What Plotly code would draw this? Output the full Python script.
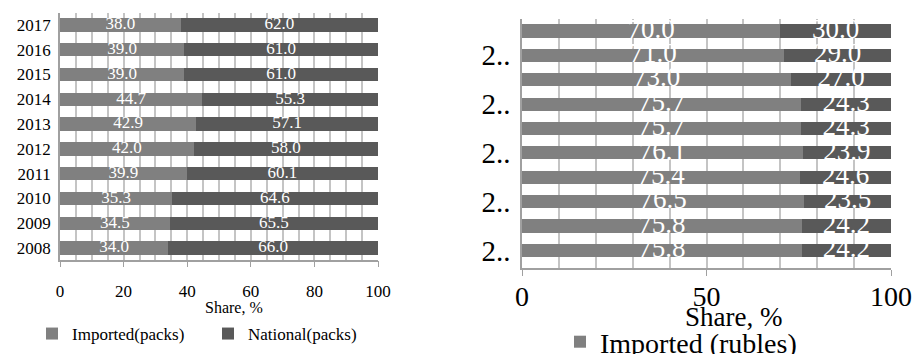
import plotly.graph_objects as go

years = ["2008", "2009", "2010", "2011", "2012", "2013", "2014", "2015", "2016", "2017"]
imported_packs = [34.0, 34.5, 35.3, 39.9, 42.0, 42.9, 44.7, 39.0, 39.0, 38.0]
national_packs = [66.0, 65.5, 64.6, 60.1, 58.0, 57.1, 55.3, 61.0, 61.0, 62.0]
imported_rubles = [75.8, 75.8, 76.5, 75.4, 76.1, 75.7, 75.7, 73.0, 71.0, 70.0]
national_rubles = [24.2, 24.2, 23.5, 24.6, 23.9, 24.3, 24.3, 27.0, 29.0, 30.0]

C_IMP = "#808080"
C_NAT = "#595959"
GRID = "#c4c4c4"
AXC = "#a0a0a0"
FONT = "Liberation Serif"


def f(size, color="black"):
    return dict(family=FONT, size=size, color=color)


fig = go.Figure()

# Left chart: packs
fig.add_trace(go.Bar(y=years, x=imported_packs, orientation="h", name="Imported(packs)",
                     marker=dict(color=C_IMP, line=dict(width=0)), xaxis="x", yaxis="y",
                     legend="legend"))
fig.add_trace(go.Bar(y=years, x=national_packs, orientation="h", name="National(packs)",
                     marker=dict(color=C_NAT, line=dict(width=0)), xaxis="x", yaxis="y",
                     legend="legend"))
fig.add_trace(go.Scatter(y=years, x=[v / 2 for v in imported_packs], mode="text",
                         text=[f"{v:.1f}" for v in imported_packs], showlegend=False,
                         textfont=f(17, "white"),
                         xaxis="x", yaxis="y", cliponaxis=False, hoverinfo="skip"))
fig.add_trace(go.Scatter(y=years, x=[a + b / 2 for a, b in zip(imported_packs, national_packs)],
                         mode="text", text=[f"{v:.1f}" for v in national_packs], showlegend=False,
                         textfont=f(17, "white"),
                         xaxis="x", yaxis="y", cliponaxis=False, hoverinfo="skip"))

# Right chart: rubles
fig.add_trace(go.Bar(y=years, x=imported_rubles, orientation="h", name="Imported (rubles)",
                     marker=dict(color=C_IMP, line=dict(width=0)), xaxis="x2", yaxis="y2",
                     legend="legend2"))
fig.add_trace(go.Bar(y=years, x=national_rubles, orientation="h", name="National (rubles)",
                     marker=dict(color=C_NAT, line=dict(width=0)), xaxis="x2", yaxis="y2",
                     showlegend=False))
fig.add_trace(go.Scatter(y=years, x=[v / 2 for v in imported_rubles], mode="text",
                         text=[f"{v:.1f}" for v in imported_rubles], showlegend=False,
                         textfont=f(27, "white"),
                         xaxis="x2", yaxis="y2", cliponaxis=False, hoverinfo="skip"))
fig.add_trace(go.Scatter(y=years, x=[a + b / 2 for a, b in zip(imported_rubles, national_rubles)],
                         mode="text", text=[f"{v:.1f}" for v in national_rubles], showlegend=False,
                         textfont=f(27, "white"),
                         xaxis="x2", yaxis="y2", cliponaxis=False, hoverinfo="skip"))

W, H = 915, 354

fig.update_layout(
    width=W, height=H,
    margin=dict(l=0, r=0, t=0, b=0, autoexpand=False),
    paper_bgcolor="white", plot_bgcolor="white",
    barmode="stack", bargap=0.46,
    font=f(16),
    xaxis=dict(domain=[60 / W, 378 / W], range=[0, 100], anchor="y", automargin=False,
               tickvals=[0, 20, 40, 60, 80, 100], ticks="outside", ticklen=6, tickcolor=AXC,
               tickfont=f(17), ticklabelstandoff=9,
               showgrid=True, gridcolor=GRID, gridwidth=1.5,
               minor=dict(dtick=5, showgrid=True, gridcolor=GRID, gridwidth=1.5),
               showline=True, linecolor=AXC, linewidth=1.5, zeroline=False),
    yaxis=dict(domain=[1 - 259.5 / H, 1 - 13 / H], range=[-0.46, 9.48], anchor="x", automargin=False,
               type="category", categoryorder="array", categoryarray=years,
               tickfont=f(17), ticks="", showgrid=False, ticklabelstandoff=4,
               showline=True, linecolor=AXC, linewidth=1.5, zeroline=False),
    xaxis2=dict(domain=[522 / W, 891 / W], range=[0, 100], anchor="y2", automargin=False,
                tickvals=[0, 50, 100], ticks="outside", ticklen=6, tickcolor=AXC,
                tickfont=f(28), ticklabelstandoff=-3,
                showgrid=True, gridcolor=GRID, gridwidth=1.5,
                minor=dict(dtick=10, showgrid=True, gridcolor=GRID, gridwidth=1.5),
                showline=True, linecolor=AXC, linewidth=1.5, zeroline=False),
    yaxis2=dict(domain=[1 - 268 / H, 1 - 19 / H], range=[-0.72, 9.49], anchor="x2", automargin=False,
                type="category", categoryorder="array", categoryarray=years,
                tickvals=["2008", "2010", "2012", "2014", "2016"], ticktext=["2.."] * 5,
                tickfont=f(29), ticks="", showgrid=False, ticklabelstandoff=4,
                showline=True, linecolor=AXC, linewidth=1.5, zeroline=False),
    legend=dict(orientation="h", x=32 / W, y=1 - 334 / H, xanchor="left", yanchor="middle",
                font=f(17), entrywidth=131, entrywidthmode="pixels",
                bgcolor="rgba(0,0,0,0)", traceorder="normal"),
    legend2=dict(orientation="h", x=560 / W, y=1 - 342 / H, xanchor="left", yanchor="middle",
                 font=f(28), bgcolor="rgba(0,0,0,0)"),
    annotations=[
        dict(text="Share, %", x=234 / W, y=1 - 307 / H, xref="paper", yref="paper",
             showarrow=False, font=f(16), xanchor="center", yanchor="middle"),
        dict(text="Share, %", x=733 / W, y=1 - 317 / H, xref="paper", yref="paper",
             showarrow=False, font=f(27), xanchor="center", yanchor="middle"),
    ],
)

fig.write_html("out.html", config={"displayModeBar": False},
               post_script="document.body.style.margin='0';")
